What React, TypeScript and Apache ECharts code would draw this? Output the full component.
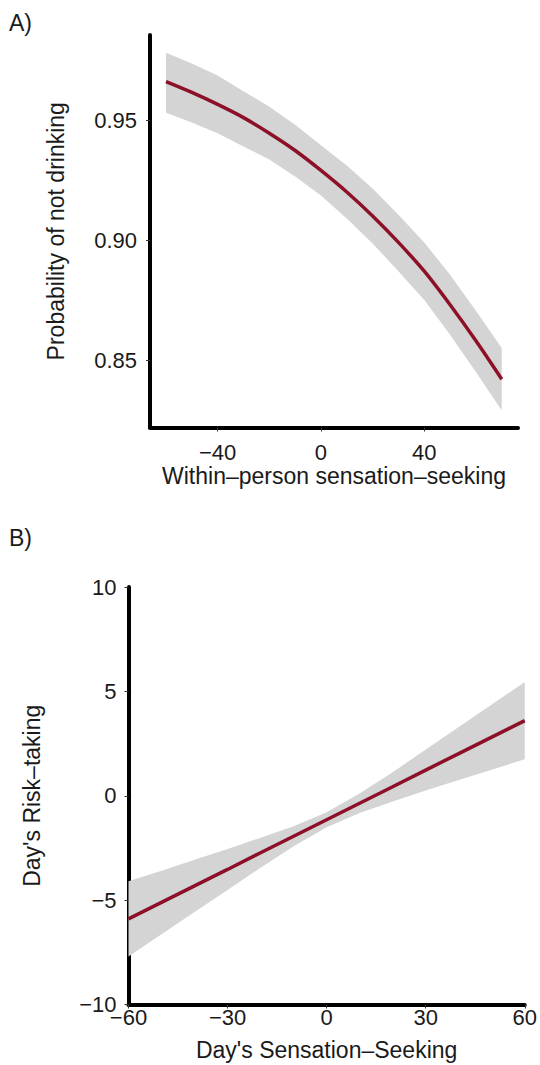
import React, { useEffect, useRef } from "react";
import * as echarts from "echarts";

// Panel A: within-person sensation-seeking vs probability of not drinking
const aX = [-60, -50, -40, -30, -20, -10, 0, 10, 20, 30, 40, 50, 60, 70];
const aFit = [0.966, 0.9615, 0.9565, 0.951, 0.9445, 0.9373, 0.929, 0.92, 0.91, 0.899, 0.887, 0.873, 0.858, 0.842];
const aUpper = [0.978, 0.9735, 0.9685, 0.962, 0.9555, 0.948, 0.9395, 0.931, 0.9215, 0.9105, 0.899, 0.8855, 0.8705, 0.855];
const aLower = [0.953, 0.949, 0.9445, 0.939, 0.9335, 0.9265, 0.9185, 0.909, 0.8985, 0.887, 0.875, 0.8605, 0.845, 0.829];
const aXTicks = [-40, 0, 40];
const aYTicks = [0.85, 0.9, 0.95];

// Panel B: day's sensation-seeking vs day's risk-taking
const bX = [-60, -50, -40, -30, -20, -10, 0, 10, 20, 30, 40, 50, 60];
const bFit = [-5.9, -5.11, -4.32, -3.53, -2.73, -1.94, -1.15, -0.36, 0.43, 1.23, 2.02, 2.81, 3.6];
const bUpper = [-4.1, -3.59, -3.07, -2.55, -2.01, -1.46, -0.79, 0.11, 1.13, 2.21, 3.29, 4.37, 5.45];
const bLower = [-7.7, -6.63, -5.57, -4.51, -3.45, -2.42, -1.51, -0.83, -0.27, 0.25, 0.75, 1.25, 1.75];

const FONT = "'Liberation Sans', Arial, Helvetica, sans-serif";
const TXT = "#1a1a1a";
const LINE = "#8c1027";
const BAND = "#d4d4d4";

const minus = (v: number) => String(v).replace("-", "\u2212");

function bandSeries(xs: number[], lower: number[], upper: number[], axisIndex: number) {
  return {
    type: "custom",
    xAxisIndex: axisIndex,
    yAxisIndex: axisIndex,
    data: xs.map((x, i) => [x, lower[i], upper[i]]),
    encode: { x: 0, y: [1, 2] },
    z: 1,
    renderItem: (params: any, api: any) => {
      if (params.dataIndex !== 0) return null;
      const top = xs.map((x, i) => api.coord([x, upper[i]]));
      const bottom = xs.map((x, i) => api.coord([x, lower[i]])).reverse();
      return {
        type: "polygon",
        shape: { points: top.concat(bottom) },
        style: { fill: BAND, stroke: null },
      };
    },
  };
}

export default function App() {
  const ref = useRef<HTMLDivElement>(null);
  useEffect(() => {
    if (!ref.current) return;
    const chart = echarts.init(ref.current, undefined, { renderer: "svg" });
    const axisLine = { show: true, onZero: false, lineStyle: { color: "#000", width: 4 } };
    const axisTick = { show: true, length: 4, lineStyle: { color: "#333", width: 1 } };
    const labelStyle = { color: TXT, fontSize: 22, fontFamily: FONT };
    const nameStyle = { color: TXT, fontSize: 23, fontFamily: FONT };
    chart.setOption({
      animation: false,
      backgroundColor: "#fff",
      grid: [
        { left: 150, top: 35, width: 368, height: 392.5, containLabel: false },
        { left: 128.5, top: 587, width: 399.5, height: 417.5, containLabel: false },
      ],
      xAxis: [
        {
          type: "value",
          gridIndex: 0,
          min: -66.2,
          max: 76.3,
          axisLine,
          axisTick: { ...axisTick, customValues: aXTicks },
          axisLabel: { ...labelStyle, margin: 14, customValues: aXTicks, formatter: minus },
          splitLine: { show: false },
          name: "Within\u2013person sensation\u2013seeking",
          nameLocation: "middle",
          nameGap: 25,
          nameTextStyle: nameStyle,
        },
        {
          type: "value",
          gridIndex: 1,
          min: -60,
          max: 60,
          interval: 30,
          axisLine,
          axisTick,
          axisLabel: { ...labelStyle, margin: 2, formatter: minus, showMinLabel: true, showMaxLabel: true },
          splitLine: { show: false },
          name: "Day's Sensation\u2013Seeking",
          nameLocation: "middle",
          nameGap: 34,
          nameTextStyle: nameStyle,
        },
      ],
      yAxis: [
        {
          type: "value",
          gridIndex: 0,
          min: 0.82188,
          max: 0.98542,
          axisLine,
          axisTick: { ...axisTick, customValues: aYTicks },
          axisLabel: {
            ...labelStyle,
            margin: 13,
            customValues: aYTicks,
            formatter: (v: number) => v.toFixed(2),
          },
          splitLine: { show: false },
          name: "Probability of not drinking",
          nameLocation: "middle",
          nameGap: 83,
          nameTextStyle: nameStyle,
        },
        {
          type: "value",
          gridIndex: 1,
          min: -10,
          max: 10,
          interval: 5,
          axisLine,
          axisTick,
          axisLabel: { ...labelStyle, margin: 12, formatter: minus },
          splitLine: { show: false },
          name: "Day's Risk\u2013taking",
          nameLocation: "middle",
          nameGap: 85,
          nameTextStyle: nameStyle,
        },
      ],
      graphic: [
        { type: "text", left: 9, top: 11, style: { text: "A)", font: `23px ${FONT}`, fill: TXT } },
        { type: "text", left: 9, top: 526, style: { text: "B)", font: `23px ${FONT}`, fill: TXT } },
      ],
      series: [
        bandSeries(aX, aLower, aUpper, 0),
        {
          type: "line",
          xAxisIndex: 0,
          yAxisIndex: 0,
          symbol: "none",
          smooth: 0.3,
          lineStyle: { color: LINE, width: 3.5 },
          data: aX.map((x, i) => [x, aFit[i]]),
          z: 3,
        },
        bandSeries(bX, bLower, bUpper, 1),
        {
          type: "line",
          xAxisIndex: 1,
          yAxisIndex: 1,
          symbol: "none",
          lineStyle: { color: LINE, width: 3.5 },
          data: bX.map((x, i) => [x, bFit[i]]),
          z: 3,
        },
      ],
    });
    return () => chart.dispose();
  }, []);
  return (
    <div
      ref={ref}
      style={{ position: "absolute", left: 0, top: 0, width: 540, height: 1065 }}
    />
  );
}
